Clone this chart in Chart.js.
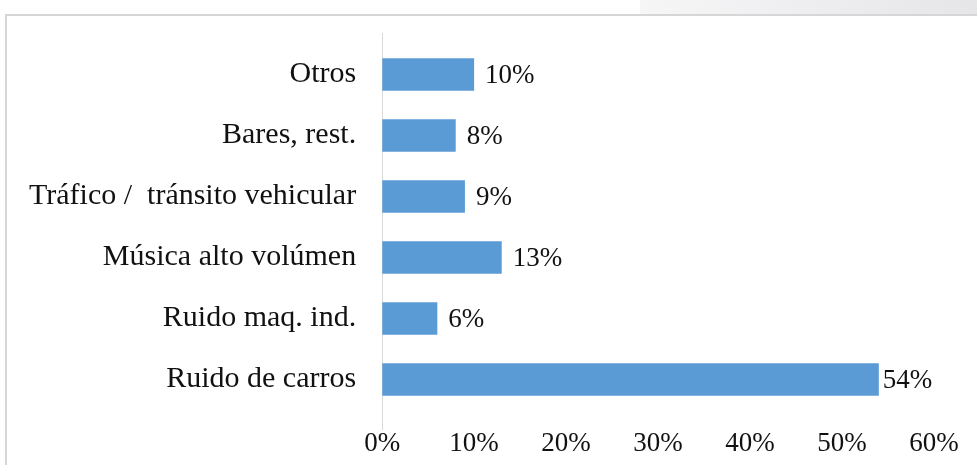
<!DOCTYPE html>
<html>
<head>
<meta charset="utf-8">
<script src="https://cdn.jsdelivr.net/npm/chart.js@4.4.0/dist/chart.umd.min.js"></script>
<style>
  html, body { margin: 0; padding: 0; background: #fff; }
  body { width: 977px; height: 465px; position: relative; overflow: hidden; }
  .topband { position: absolute; left: 640px; top: 0; width: 337px; height: 14px;
             background: linear-gradient(to right, #f6f6f7, #e6e6e9); }
  .frame { position: absolute; left: 5px; top: 14px; width: 980px; height: 460px;
           border-top: 2px solid #d6d6d6; border-left: 2px solid #d6d6d6; }
  #wrap { position: absolute; left: 0; top: 0; width: 977px; height: 465px; }
</style>
</head>
<body>
<div class="topband"></div>
<div class="frame"></div>
<div id="wrap"><canvas id="chart"></canvas></div>
<script>
// ── Data ───────────────────────────────────────────────────
const categories = ['Otros', 'Bares, rest.', 'Tráfico /  tránsito vehicular',
                    'Música alto volúmen', 'Ruido maq. ind.', 'Ruido de carros'];
const percentages = [10, 8, 9, 13, 6, 54];
const xTicks = [0, 10, 20, 30, 40, 50, 60];

const BAR_BLUE = '#5b9bd5';
const TEXT = '#111111';
const SERIF = "'Liberation Serif', 'Times New Roman', serif";

// ── Plugins: value axis line + value labels ────────────────
const zeroLine = {
  id: 'zeroLine',
  beforeDatasetsDraw(chart) {
    const { ctx, scales: { x }, chartArea } = chart;
    const px = Math.round(x.getPixelForValue(0)) + 0.5;
    ctx.save();
    ctx.strokeStyle = '#d9d9d9';
    ctx.lineWidth = 1;
    ctx.beginPath();
    ctx.moveTo(px, chartArea.top - 11);
    ctx.lineTo(px, chartArea.bottom + 20);
    ctx.stroke();
    ctx.restore();
  }
};

const valueLabels = {
  id: 'valueLabels',
  afterDatasetsDraw(chart) {
    const { ctx } = chart;
    const meta = chart.getDatasetMeta(0);
    ctx.save();
    ctx.font = '27px ' + SERIF;
    ctx.fillStyle = TEXT;
    ctx.textAlign = 'left';
    ctx.textBaseline = 'middle';
    meta.data.forEach((bar, i) => {
      const gap = percentages[i] > 50 ? 4 : 11;
      ctx.fillText(percentages[i] + '%', bar.x + gap, bar.y + 1);
    });
    ctx.restore();
  }
};

// ── Chart ──────────────────────────────────────────────────
new Chart(document.getElementById('chart').getContext('2d'), {
  type: 'bar',
  data: {
    labels: categories,
    datasets: [{
      data: percentages,
      backgroundColor: BAR_BLUE,
      borderWidth: 0,
      categoryPercentage: 1,
      barPercentage: 0.53
    }]
  },
  options: {
    indexAxis: 'y',
    responsive: true,
    maintainAspectRatio: false,
    animation: false,
    layout: { padding: { left: 3, right: 43, top: 43, bottom: 0 } },
    plugins: {
      legend: { display: false },
      tooltip: { enabled: false }
    },
    scales: {
      x: {
        min: 0, max: 60,
        afterBuildTicks: (axis) => { axis.ticks = xTicks.map(v => ({ value: v })); },
        afterFit: (axis) => { axis.height = 55; },
        grid: { display: false, drawTicks: false },
        border: { display: false },
        ticks: {
          color: TEXT,
          padding: 18,
          maxRotation: 0,
          font: { family: SERIF, size: 27 },
          callback: (v) => v + '%'
        }
      },
      y: {
        grid: { display: false, drawTicks: false },
        border: { display: false },
        ticks: {
          color: TEXT,
          padding: 26,
          font: { family: SERIF, size: 30 }
        }
      }
    }
  },
  plugins: [zeroLine, valueLabels]
});
</script>
</body>
</html>
